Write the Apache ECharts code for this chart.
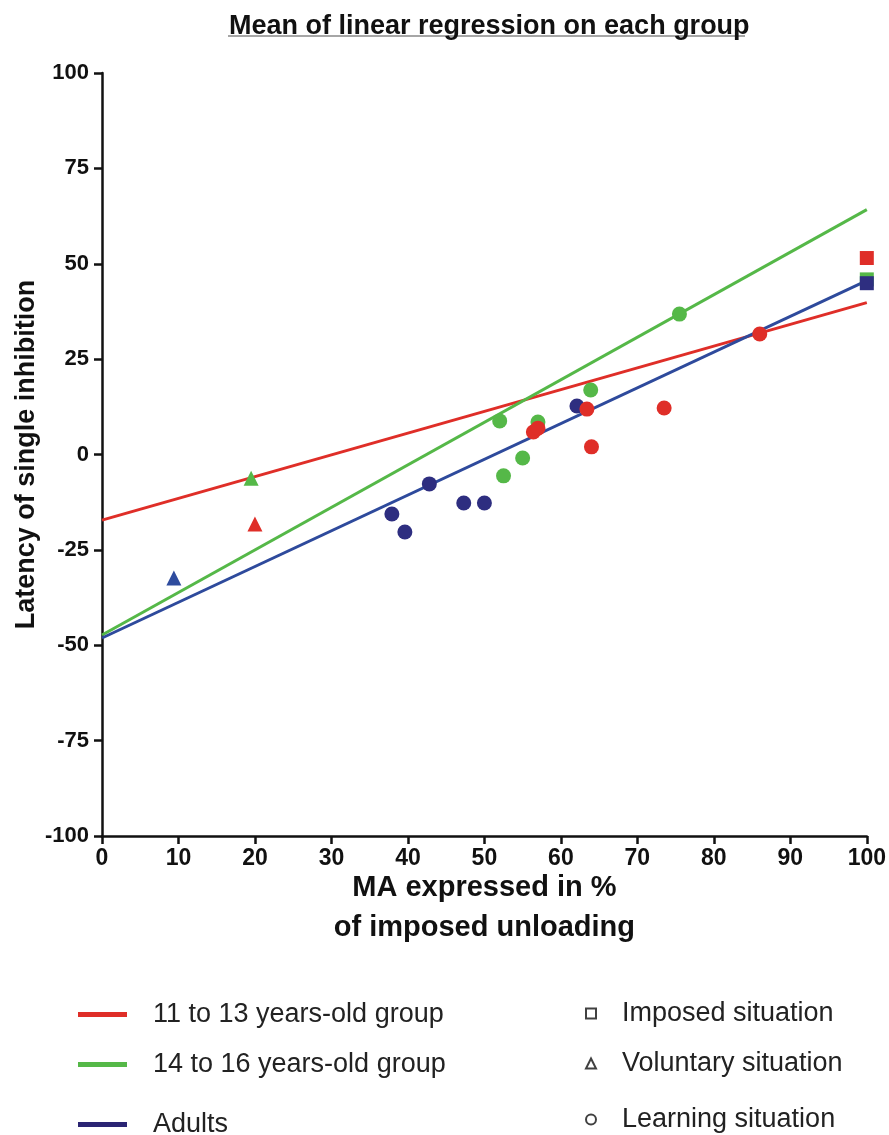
<!DOCTYPE html>
<html>
<head>
<meta charset="utf-8">
<script src="https://cdn.jsdelivr.net/npm/echarts@6/dist/echarts.min.js"></script>
<style>
html, body { margin: 0; padding: 0; background: #fff; }
#chart { width: 889px; height: 1135px; }
</style>
</head>
<body>
<div id="chart"></div>
<script>
// regression lines [x, y] at x=0 and x=100
var lineRed = [[0, -17.2], [100, 39.8]];
var lineGreen = [[0, -47.3], [100, 64.2]];
var lineBlue = [[0, -48.1], [100, 45.6]];

// learning situation (circles)
var redCircles = [[56.4, 5.9], [57.0, 6.9], [63.4, 11.9], [64.0, 2.0], [73.5, 12.2], [86.0, 31.6]];
var greenCircles = [[52.0, 8.8], [52.5, -5.6], [55.0, -0.9], [57.0, 8.5], [63.9, 16.9], [75.5, 36.8]];
var blueCircles = [[37.9, -15.6], [39.6, -20.3], [42.8, -7.7], [47.3, -12.7], [50.0, -12.7], [62.1, 12.7]];

// voluntary situation (triangles)
var redTriangles = [[20.0, -18.2]];
var greenTriangles = [[19.5, -6.2]];
var blueTriangles = [[9.4, -32.4]];

// imposed situation (squares)
var redSquares = [[100, 51.5]];
var greenSquares = [[100, 45.9]];
var blueSquares = [[100, 44.9]];

var groupNames = ['11 to 13 years-old group', '14 to 16 years-old group', 'Adults'];
var situationNames = ['Imposed situation', 'Voluntary situation', 'Learning situation'];

var RED = '#DF2E28';
var GREEN = '#55B848';
var BLUE_LINE = '#2E4A9C';
var BLUE_PT = '#2E2E80';

var FONT = '"Liberation Sans", Arial, sans-serif';

function lineSeries(name, data, color) {
	return {
		name: name,
		type: 'line',
		data: data,
		symbol: 'none',
		lineStyle: { color: color, width: 3 },
		itemStyle: { color: color },
		z: 2,
		silent: true
	};
}

function pointSeries(name, data, color, symbol, size, z) {
	return {
		name: name,
		type: 'scatter',
		data: data,
		symbol: symbol,
		symbolSize: size,
		itemStyle: { color: color, opacity: 1 },
		z: z
	};
}

function shapeLegendSeries(name, symbol) {
	return {
		name: name,
		type: 'scatter',
		data: [],
		symbol: symbol,
		itemStyle: { color: '#fff', borderColor: '#111', borderWidth: 2.8 }
	};
}

var legendText = { fontFamily: FONT, fontSize: 27, color: '#222', padding: [0, 0, 0, 21] };
var shapeText = { fontFamily: FONT, fontSize: 27, color: '#222', padding: [0, 0, 0, 21] };

function groupLegend(name, top, color) {
	return {
		data: [{ name: name, icon: 'rect', itemStyle: { color: color } }],
		left: 73, top: top,
		itemWidth: 49, itemHeight: 5,
		textStyle: legendText,
		selectedMode: false
	};
}

function shapeLegend(name, top, icon) {
	return {
		data: [name],
		left: 580, top: top,
		icon: icon,
		itemWidth: 10, itemHeight: 10,
		textStyle: shapeText,
		selectedMode: false
	};
}

var option = {
	animation: false,
	backgroundColor: '#fff',
	title: {
		text: 'Mean of linear regression on each group',
		left: 224,
		top: 8,
		textStyle: { fontFamily: FONT, fontSize: 27, fontWeight: 'bold', color: '#111' }
	},
	graphic: [{
		type: 'line',
		shape: { x1: 228, y1: 36, x2: 745, y2: 36 },
		style: { stroke: '#888', lineWidth: 1.5 }
	}],
	grid: { left: 102, right: 21, top: 73, bottom: 299 },
	legend: [
		groupLegend(groupNames[0], 996, RED),
		groupLegend(groupNames[1], 1046, GREEN),
		groupLegend(groupNames[2], 1106, '#2B2473'),
		shapeLegend(situationNames[0], 995, 'rect'),
		shapeLegend(situationNames[1], 1045, 'triangle'),
		shapeLegend(situationNames[2], 1101, 'circle')
	],
	xAxis: {
		type: 'value',
		min: 0, max: 100, interval: 10,
		name: 'MA expressed in %\nof imposed unloading',
		nameLocation: 'middle',
		nameGap: 32,
		nameMoveOverlap: false,
		nameTextStyle: { fontFamily: FONT, fontSize: 29, fontWeight: 'bold', color: '#111', lineHeight: 40, verticalAlign: 'top' },
		axisLine: { show: true, onZero: false, lineStyle: { color: '#111', width: 2.5 } },
		axisTick: { show: true, length: 8, lineStyle: { color: '#111', width: 2.5 } },
		axisLabel: { fontFamily: FONT, fontSize: 23, fontWeight: 'bold', color: '#111', margin: 11 },
		splitLine: { show: false }
	},
	yAxis: {
		type: 'value',
		min: -100, max: 100, interval: 25,
		name: 'Latency of single inhibition',
		nameLocation: 'middle',
		nameGap: 62,
		nameMoveOverlap: false,
		nameTextStyle: { fontFamily: FONT, fontSize: 27, fontWeight: 'bold', color: '#111' },
		axisLine: { show: true, onZero: false, lineStyle: { color: '#111', width: 2.5 } },
		axisTick: { show: true, length: 8, lineStyle: { color: '#111', width: 2.5 } },
		axisLabel: { fontFamily: FONT, fontSize: 22, fontWeight: 'bold', color: '#111', margin: 13 },
		splitLine: { show: false }
	},
	series: [
		lineSeries(groupNames[0], lineRed, RED),
		lineSeries(groupNames[1], lineGreen, GREEN),
		lineSeries(groupNames[2], lineBlue, BLUE_LINE),
		pointSeries('adult learning', blueCircles, BLUE_PT, 'circle', 15, 3),
		pointSeries('14-16 learning', greenCircles, GREEN, 'circle', 15, 4),
		pointSeries('11-13 learning', redCircles, RED, 'circle', 15, 5),
		pointSeries('adult voluntary', blueTriangles, '#2E4C9E', 'triangle', 15, 5),
		pointSeries('14-16 voluntary', greenTriangles, GREEN, 'triangle', 15, 5),
		pointSeries('11-13 voluntary', redTriangles, RED, 'triangle', 15, 5),
		pointSeries('11-13 imposed', redSquares, RED, 'rect', 14, 5),
		pointSeries('14-16 imposed', greenSquares, GREEN, 'rect', 14, 5),
		pointSeries('adult imposed', blueSquares, BLUE_PT, 'rect', 14, 6),
		shapeLegendSeries(situationNames[0], 'rect'),
		shapeLegendSeries(situationNames[1], 'triangle'),
		shapeLegendSeries(situationNames[2], 'circle')
	]
};

var myChart = echarts.init(document.getElementById('chart'));
myChart.setOption(option);
</script>
</body>
</html>
